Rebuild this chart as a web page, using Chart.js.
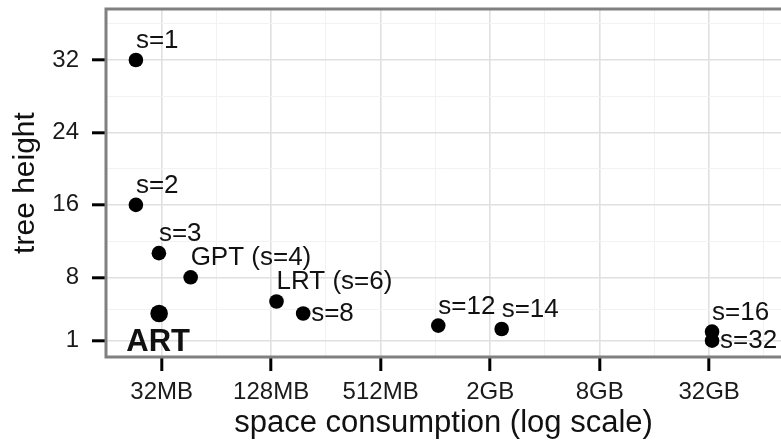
<!DOCTYPE html>
<html>
<head>
<meta charset="utf-8">
<script src="https://cdn.jsdelivr.net/npm/chart.js@4/dist/chart.umd.min.js"></script>
<style>
  html, body { margin: 0; padding: 0; background: #fff; }
  #chart { display: block; }
</style>
</head>
<body>
<canvas id="chart" width="781" height="442"></canvas>
<script>
// point labels and values (space in MB, tree height in levels)
const pointLabels = ['s=1', 's=2', 's=3', 'GPT (s=4)', 'LRT (s=6)', 's=8', 's=12', 's=14', 's=16', 's=32'];
const spaceMB = [23.1, 23.1, 30.9, 46.2, 137, 192, 1062, 2370, 34000, 34000];
const treeHeight = [32, 16, 10.67, 8, 5.33, 4, 2.67, 2.29, 2, 1];
const labelSide = ['above', 'above', 'above', 'above', 'above', 'right', 'above', 'above', 'above', 'right'];

const artLabel = 'ART';
const artSpaceMB = [31];
const artHeight = [4];

const xTickValues = [32, 128, 512, 2048, 8192, 32768];
const xTickLabels = ['32MB', '128MB', '512MB', '2GB', '8GB', '32GB'];
const xMinorValues = [16, 64, 256, 1024, 4096, 16384, 65536];
const yTickValues = [1, 8, 16, 24, 32];
const yMinorValues = [4.5, 12, 20, 28, 36];

const FONT = "'Liberation Sans', Arial, Helvetica, sans-serif";

function isMajor(list, v) {
    return list.some(t => Math.abs(t - v) < 1e-6 * Math.max(1, t));
}

// ggplot風のパネル枠と点ラベル
const panelPlugin = {
    id: 'panel',
    beforeDatasetsDraw(chart) {
        const { ctx, chartArea } = chart;
        ctx.save();
        ctx.strokeStyle = '#808080';
        ctx.lineWidth = 3;
        ctx.beginPath();
        ctx.moveTo(chartArea.right + 5, chartArea.top);
        ctx.lineTo(chartArea.left, chartArea.top);
        ctx.lineTo(chartArea.left, chartArea.bottom);
        ctx.lineTo(chartArea.right + 5, chartArea.bottom);
        ctx.stroke();
        ctx.restore();
    },
    afterDatasetsDraw(chart) {
        const { ctx } = chart;
        ctx.save();
        ctx.fillStyle = '#111';
        ctx.textBaseline = 'alphabetic';
        const meta = chart.getDatasetMeta(0);
        meta.data.forEach((pt, i) => {
            ctx.font = '26px ' + FONT;
            ctx.textAlign = 'left';
            if (labelSide[i] === 'right') {
                ctx.fillText(pointLabels[i], pt.x + 8, pt.y + 7);
            } else {
                ctx.fillText(pointLabels[i], pt.x, pt.y - 12);
            }
        });
        const artMeta = chart.getDatasetMeta(1);
        artMeta.data.forEach(pt => {
            ctx.font = 'bold 31px ' + FONT;
            ctx.textAlign = 'center';
            ctx.fillText(artLabel, pt.x - 1, pt.y + 37);
        });
        ctx.restore();
    }
};

const ctx = document.getElementById('chart').getContext('2d');
new Chart(ctx, {
    type: 'scatter',
    data: {
        datasets: [{
            label: 'trees',
            data: spaceMB.map((x, i) => ({ x: x, y: treeHeight[i] })),
            backgroundColor: '#000',
            borderColor: '#000',
            pointRadius: 7.3,
            pointBorderWidth: 0
        }, {
            label: artLabel,
            data: artSpaceMB.map((x, i) => ({ x: x, y: artHeight[i] })),
            backgroundColor: '#000',
            borderColor: '#000',
            pointRadius: 8.8,
            pointBorderWidth: 0
        }]
    },
    options: {
        responsive: false,
        animation: false,
        devicePixelRatio: 1,
        layout: { autoPadding: false, padding: { top: 9, right: 0, left: 0, bottom: 0 } },
        plugins: {
            legend: { display: false },
            tooltip: { enabled: false }
        },
        scales: {
            x: {
                type: 'logarithmic',
                position: 'bottom',
                min: 15.82,
                max: 81390,
                afterBuildTicks(scale) {
                    scale.ticks = xTickValues.concat(xMinorValues)
                        .sort((a, b) => a - b)
                        .map(v => ({ value: v }));
                },
                afterFit(scale) {
                    scale.height = 85;
                    scale.paddingLeft = 0;
                    scale.paddingRight = 0;
                },
                border: { display: false },
                grid: {
                    color: c => isMajor(xTickValues, c.tick.value) ? '#e0e0e0' : '#f2f2f2',
                    lineWidth: c => isMajor(xTickValues, c.tick.value) ? 1.6 : 1,
                    tickColor: c => isMajor(xTickValues, c.tick.value) ? '#000' : 'rgba(0,0,0,0)',
                    tickWidth: 3,
                    tickLength: 14
                },
                ticks: {
                    autoSkip: false,
                    maxRotation: 0,
                    padding: 7,
                    color: '#1a1a1a',
                    font: { family: FONT, size: 24 },
                    callback: function (value) {
                        const idx = xTickValues.findIndex(t => Math.abs(t - value) < 1e-6 * t);
                        return idx >= 0 ? xTickLabels[idx] : '';
                    }
                },
                title: {
                    display: true,
                    text: 'space consumption (log scale)',
                    color: '#111',
                    padding: 0,
                    font: { family: FONT, size: 31, lineHeight: 1.2 }
                }
            },
            y: {
                type: 'linear',
                min: -0.8,
                max: 37.63,
                afterBuildTicks(scale) {
                    scale.ticks = yTickValues.concat(yMinorValues)
                        .sort((a, b) => a - b)
                        .map(v => ({ value: v }));
                },
                afterFit(scale) {
                    scale.width = 106;
                    scale.paddingTop = 0;
                    scale.paddingBottom = 0;
                },
                border: { display: false },
                grid: {
                    color: c => isMajor(yTickValues, c.tick.value) ? '#e0e0e0' : '#f2f2f2',
                    lineWidth: c => isMajor(yTickValues, c.tick.value) ? 1.6 : 1,
                    tickColor: c => isMajor(yTickValues, c.tick.value) ? '#000' : 'rgba(0,0,0,0)',
                    tickWidth: 3,
                    tickLength: 14
                },
                ticks: {
                    autoSkip: false,
                    padding: 13,
                    color: '#1a1a1a',
                    font: { family: FONT, size: 24 },
                    callback: function (value) {
                        return isMajor(yTickValues, value) ? String(value) : '';
                    }
                },
                title: {
                    display: true,
                    text: 'tree height',
                    color: '#111',
                    padding: 8,
                    font: { family: FONT, size: 30, lineHeight: 1.2 }
                }
            }
        }
    },
    plugins: [panelPlugin]
});
</script>
</body>
</html>
